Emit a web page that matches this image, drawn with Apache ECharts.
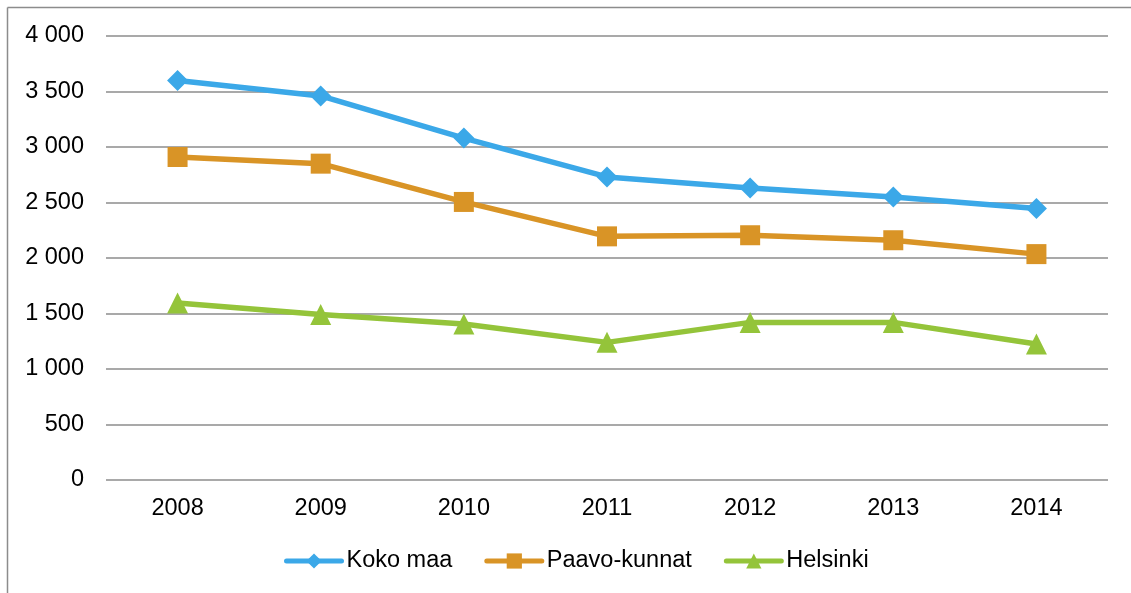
<!DOCTYPE html>
<html>
<head>
<meta charset="utf-8">
<script src="https://cdn.jsdelivr.net/npm/echarts@6/dist/echarts.min.js"></script>
<style>
html,body{margin:0;padding:0;background:#fff;}
#c{width:1131px;height:593px;}
</style>
</head>
<body>
<div id="c"></div>
<script>
const years = ['2008','2009','2010','2011','2012','2013','2014'];
const kokoMaa = [3600, 3460, 3080, 2730, 2630, 2550, 2445];
const paavoKunnat = [2910, 2850, 2505, 2195, 2205, 2160, 2035];
const helsinki = [1595, 1490, 1405, 1240, 1420, 1420, 1225];
const yTicks = [0, 500, 1000, 1500, 2000, 2500, 3000, 3500, 4000];

const chart = echarts.init(document.getElementById('c'));
const font = 'Liberation Sans, Arial, sans-serif';
const fs = 23.5;
function fmt(v){ return String(v).replace(/\B(?=(\d{3})+(?!\d))/g, ' '); }
function mk(name, data, color, symbol, size){
  return {
    name, type:'line', data, symbol, symbolSize:size,
    lineStyle:{color, width:5.5}, itemStyle:{color},
    emphasis:{disabled:true}, animation:false
  };
}
chart.setOption({
  animation:false,
  grid:{left:106, right:23, top:36, bottom:113, containLabel:false},
  graphic:[
    {type:'line', shape:{x1:7.5,y1:7.5,x2:1131,y2:7.5}, style:{stroke:'#8c8c8c', lineWidth:1.5}, silent:true},
    {type:'line', shape:{x1:7.5,y1:7.5,x2:7.5,y2:593}, style:{stroke:'#8c8c8c', lineWidth:1.5}, silent:true}
  ],
  xAxis:{
    type:'category', data:years, boundaryGap:true,
    axisLine:{show:false}, axisTick:{show:false},
    axisLabel:{color:'#000', fontFamily:font, fontSize:fs, margin:17}
  },
  yAxis:{
    type:'value', min:yTicks[0], max:yTicks[yTicks.length-1], interval:500,
    axisLine:{show:false}, axisTick:{show:false},
    splitLine:{lineStyle:{color:'#8c8c8c', width:1.5}},
    axisLabel:{color:'#000', fontFamily:font, fontSize:fs, margin:22, formatter:fmt}
  },
  legend:{
    top:544, left:279, itemWidth:55, itemHeight:19, itemGap:32,
    lineStyle:{width:5, cap:'round'},
    textStyle:{color:'#000', fontFamily:font, fontSize:fs},
    selectedMode:false
  },
  series:[
    mk('Koko maa', kokoMaa, '#3BA8E8', 'diamond', 21),
    mk('Paavo-kunnat', paavoKunnat, '#D99426', 'rect', 20),
    mk('Helsinki', helsinki, '#94C43A', 'triangle', 21)
  ]
});
</script>
</body>
</html>
